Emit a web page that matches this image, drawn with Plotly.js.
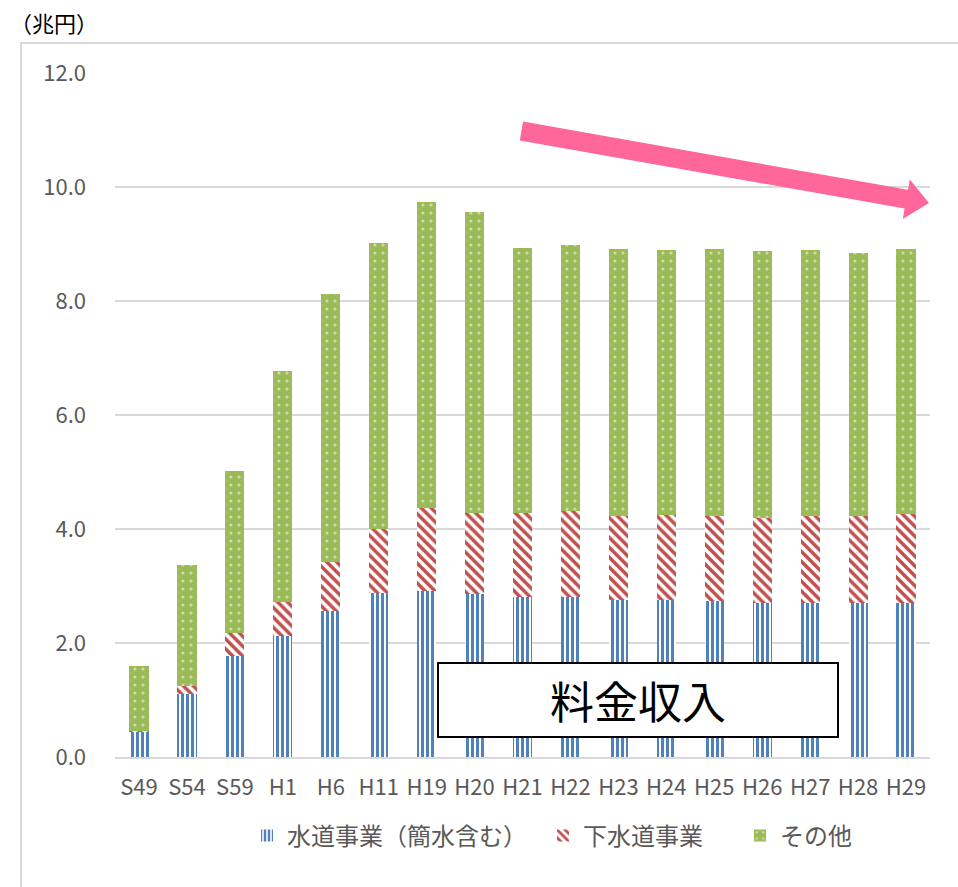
<!DOCTYPE html>
<html>
<head>
<meta charset="utf-8">
<script src="https://cdn.plot.ly/plotly-3.0.1.min.js"></script>
<style>
html,body{margin:0;padding:0;background:#fff;}
#chart{width:958px;height:887px;}
</style>
</head>
<body>
<div id="chart"></div>
<script>
// Categories (fiscal years)
const categories = ["S49","S54","S59","H1","H6","H11","H19","H20","H21","H22","H23","H24","H25","H26","H27","H28","H29"];
// 水道事業（簡水含む） (trillion yen)
const waterSupply = [0.43,1.10,1.78,2.13,2.57,2.88,2.91,2.86,2.81,2.81,2.75,2.75,2.74,2.70,2.70,2.70,2.71];
// 下水道事業
const sewerage = [0.02,0.15,0.39,0.59,0.85,1.12,1.46,1.42,1.47,1.50,1.48,1.50,1.49,1.50,1.52,1.53,1.55];
// その他
const others = [1.15,2.12,2.85,4.05,4.70,5.02,5.36,5.28,4.65,4.68,4.68,4.65,4.68,4.67,4.67,4.61,4.65];
const seriesNames = ["水道事業（簡水含む）","下水道事業","その他"];
const yTickVals = [0,2,4,6,8,10,12];

const W = 958, H = 887;
const M = {l:115, r:28, t:73, b:130};
const PW = W - M.l - M.r, PH = H - M.t - M.b;
const px = x => (x - M.l) / PW;
const py = y => (H - M.b - y) / PH;

const FONT = '"Noto Sans CJK JP", "Noto Sans", sans-serif';

const traces = [
  {
    type:'bar', name:seriesNames[0], x:categories, y:waterSupply,
    legendwidth:251,
    marker:{color:'#4f81bd', line:{width:0},
      pattern:{shape:'|', fillmode:'replace', fgcolor:'#4f81bd', bgcolor:'#ffffff', size:5, solidity:0.6}}
  },
  {
    type:'bar', name:seriesNames[1], x:categories, y:sewerage,
    legendwidth:152,
    marker:{color:'#c0504d', line:{width:0},
      pattern:{shape:'\\', fillmode:'replace', fgcolor:'#c0504d', bgcolor:'#ffffff', size:7, solidity:0.5}}
  },
  {
    type:'bar', name:seriesNames[2], x:categories, y:others,
    legendwidth:80,
    marker:{color:'#9bbb59', line:{width:0},
      pattern:{shape:'.', fillmode:'overlay', fgcolor:'#ffffff', bgcolor:'#9bbb59', size:8, solidity:0.12}}
  }
];

// Arrow polygon (pixel coords -> paper)
const arrowPts = [[523,121.6],[908,189.8],[909.8,179.5],[929,203],[902.8,218.9],[904.6,208.6],[519.8,140.4]];
const arrowPath = 'M' + arrowPts.map(p => px(p[0]).toFixed(5) + ',' + py(p[1]).toFixed(5)).join(' L') + ' Z';

const layout = {
  width:W, height:H,
  margin:M,
  paper_bgcolor:'#ffffff', plot_bgcolor:'#ffffff',
  font:{family:FONT, color:'#595959', size:22},
  barmode:'stack',
  bargap:0.6,
  showlegend:true,
  legend:{orientation:'h', x:px(247), xanchor:'left', y:py(836), yanchor:'middle',
    font:{size:24, color:'#595959', family:FONT}, traceorder:'normal', itemclick:false},
  xaxis:{type:'category', showgrid:false, showline:true, linecolor:'#d9d9d9', linewidth:2,
    ticks:'', tickfont:{size:22, color:'#595959'}, ticklabelstandoff:10, fixedrange:true},
  yaxis:{range:[0,12], tickvals:yTickVals, tickformat:'.1f', showgrid:true, gridcolor:'#d9d9d9', gridwidth:1.5,
    zeroline:false, showline:false, ticks:'', tickfont:{size:22, color:'#595959'}, ticklabelstandoff:28, fixedrange:true},
  shapes:[
    {type:'rect', xref:'paper', yref:'paper', x0:px(21), x1:px(965), y0:py(895), y1:py(43),
      line:{color:'#d9d9d9', width:2}, fillcolor:'rgba(0,0,0,0)', layer:'below'},
    {type:'path', xref:'paper', yref:'paper', path:arrowPath, fillcolor:'#ff6699', line:{width:0}, layer:'above'}
  ],
  annotations:[
    {xref:'paper', yref:'paper', x:px(8), y:py(22), xanchor:'left', yanchor:'middle', showarrow:false,
      text:'（兆円）', font:{size:22, color:'#000000', family:FONT}},
    {xref:'paper', yref:'paper', x:px(638), y:py(700), xanchor:'center', yanchor:'middle', showarrow:false,
      text:'料金収入', font:{size:44, color:'#000000', family:FONT},
      bgcolor:'#ffffff', bordercolor:'#000000', borderwidth:2, borderpad:0, width:398, height:72}
  ]
};

Plotly.newPlot('chart', traces, layout, {displayModeBar:false, staticPlot:true});
</script>
</body>
</html>
